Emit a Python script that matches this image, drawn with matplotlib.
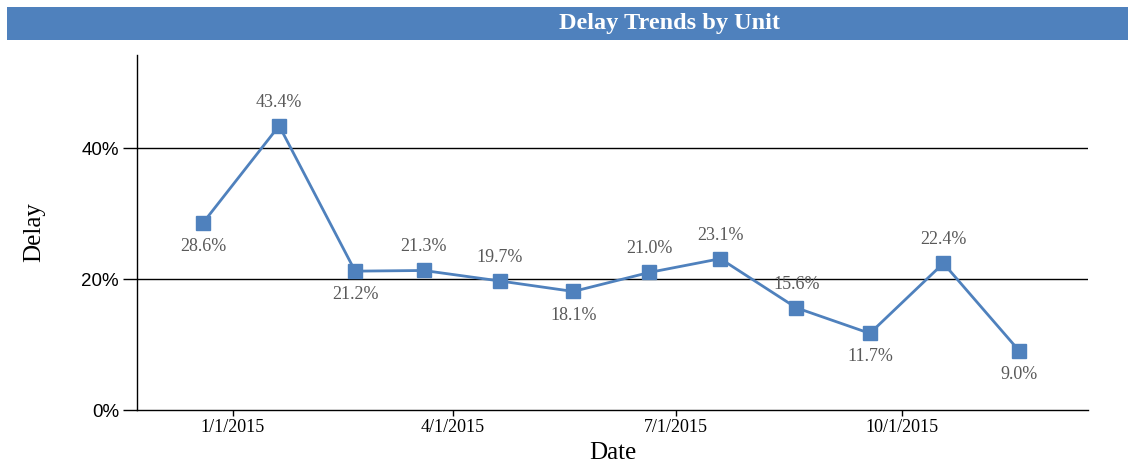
import datetime as dt
import matplotlib
matplotlib.use('Agg')
import matplotlib.pyplot as plt
from matplotlib.patches import Rectangle
from matplotlib.ticker import FuncFormatter

# data (one point per month)
dates = [dt.date(2014, 12, 20), dt.date(2015, 1, 20), dt.date(2015, 2, 20),
         dt.date(2015, 3, 20), dt.date(2015, 4, 20), dt.date(2015, 5, 20),
         dt.date(2015, 6, 20), dt.date(2015, 7, 19), dt.date(2015, 8, 19),
         dt.date(2015, 9, 18), dt.date(2015, 10, 18), dt.date(2015, 11, 18)]
delay = [28.6, 43.4, 21.2, 21.3, 19.7, 18.1, 21.0, 23.1, 15.6, 11.7, 22.4, 9.0]
label_above = [False, True, False, True, True, False, True, True, True, False, True, False]
tick_dates = [dt.date(2015, 1, 1), dt.date(2015, 4, 1), dt.date(2015, 7, 1), dt.date(2015, 10, 1)]
tick_labels = ['1/1/2015', '4/1/2015', '7/1/2015', '10/1/2015']
y_ticks = [0, 20, 40]

blue = '#4F81BD'
serif = 'Liberation Serif'
sans = 'Liberation Sans'

fig = plt.figure(figsize=(11.3, 4.65), dpi=100)

# title bar
fig.patches.append(Rectangle((7/1130, 1-40/465), 1121/1130, 33/465,
                             transform=fig.transFigure, facecolor=blue,
                             edgecolor='none', zorder=0))
fig.text(669/1130, 1-23.5/465, 'Delay Trends by Unit', color='white',
         fontsize=17.5, fontweight='bold', family=serif, ha='center', va='center')

ax = fig.add_axes([137/1130, 1-410/465, (1088-137)/1130, 355/465])

ax.plot(dates, delay, color=blue, lw=2, marker='s', ms=10.5, zorder=3)

for d, v, up in zip(dates, delay, label_above):
    ax.annotate('%.1f%%' % v, (d, v), xytext=(0, 17 if up else -17),
                textcoords='offset points', ha='center', va='center',
                fontsize=13, family=serif, color='#595959')

ax.set_ylim(0, 54.2)
ax.set_xlim(dt.date(2014, 11, 23), dt.date(2015, 12, 16))

ax.set_yticks(y_ticks)
ax.yaxis.set_major_formatter(FuncFormatter(lambda v, p: '%d%%' % v))
for lab in ax.get_yticklabels():
    lab.set_family(sans)
    lab.set_fontsize(13.5)
ax.tick_params(axis='y', length=10, width=1, pad=3)
for y in y_ticks[1:]:
    ax.axhline(y, color='black', lw=1, zorder=1)

ax.set_xticks(tick_dates)
ax.set_xticklabels(tick_labels, family=serif, fontsize=13)
ax.tick_params(axis='x', length=4.5, width=1, pad=2)

for s in ['top', 'right']:
    ax.spines[s].set_visible(False)
for s in ['left', 'bottom']:
    ax.spines[s].set_linewidth(1)

ax.set_xlabel('Date', family=serif, fontsize=18, labelpad=4)
ax.set_ylabel('Delay', family=serif, fontsize=18, labelpad=26)

fig.savefig('out.png', dpi=100)
